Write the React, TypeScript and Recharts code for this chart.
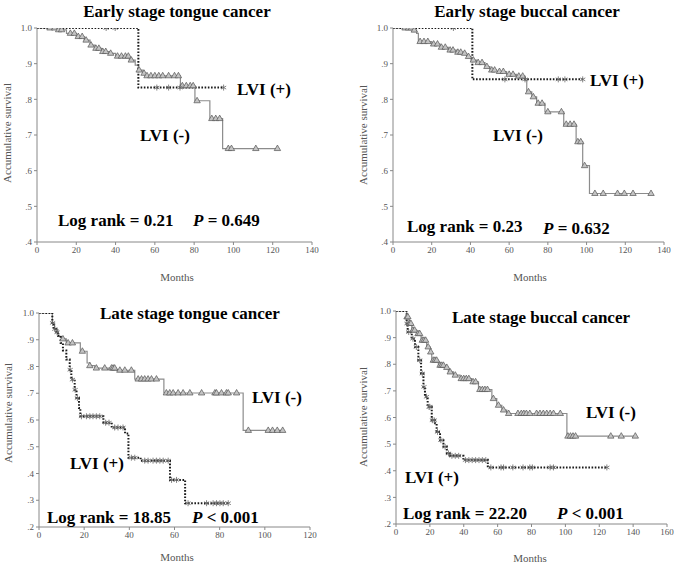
import React from "react"
import { ComposedChart, Line, Scatter, XAxis, YAxis } from "recharts"

// Kaplan-Meier curves, [month, survival] at each step
const earlyTongueNeg = [
  [0, 1], [10, 0.995], [15, 0.985], [20, 0.976], [24, 0.966], [27, 0.952], [29.5, 0.943],
  [33, 0.934], [37, 0.929], [40, 0.921], [47, 0.91], [50, 0.896], [51.6, 0.882], [54, 0.873],
  [55, 0.866], [73, 0.838], [80.4, 0.796], [88, 0.746], [94.5, 0.662], [122.5, 0.662],
]
const earlyTongueNegCens = [
  [6.6, 1], [9, 1], [11, 0.995], [12.5, 0.995], [17, 0.985], [19, 0.985], [21, 0.976], [23, 0.976],
  [25, 0.966], [27.5, 0.952], [30, 0.943], [31.5, 0.943], [33.5, 0.934], [35, 0.934], [37.5, 0.929],
  [41, 0.921], [43, 0.921], [45, 0.921], [46.5, 0.921], [48, 0.91], [52, 0.882], [54.5, 0.873],
  [56, 0.866], [58, 0.866], [60, 0.866], [62, 0.866], [64, 0.866], [67, 0.866], [70, 0.866], [72, 0.866],
  [74, 0.838], [76, 0.838], [78, 0.838], [79.5, 0.838], [81.5, 0.796], [89, 0.746], [91, 0.746],
  [93, 0.746], [97.4, 0.662], [99, 0.662], [111.4, 0.662], [122.4, 0.662],
]
const earlyTonguePos = [[0, 1], [51.6, 0.833], [95, 0.833]]
const earlyTonguePosCens = [[35.2, 1], [39.8, 1], [61, 0.833], [67, 0.833], [72.8, 0.833], [95, 0.833]]

const earlyBuccalNeg = [
  [0, 1], [10.5, 0.994], [12.2, 0.985], [13.1, 0.962], [20, 0.955], [24.3, 0.946], [28.6, 0.938],
  [33, 0.932], [36.3, 0.929], [38, 0.92], [40.3, 0.91], [43.2, 0.903], [47.5, 0.892], [50.1, 0.882],
  [53.5, 0.878], [58.7, 0.87], [63.9, 0.865], [68.2, 0.854], [69.1, 0.821], [71.7, 0.807],
  [74.2, 0.789], [78.5, 0.765], [88.2, 0.73], [94.6, 0.681], [98, 0.614], [101.5, 0.536], [133.3, 0.536],
]
const earlyBuccalNegCens = [
  [6.2, 1], [8, 1], [9.5, 1], [11, 0.994], [14, 0.962], [16, 0.962], [18, 0.962], [21, 0.955],
  [23, 0.955], [25, 0.946], [27, 0.946], [29.5, 0.938], [31, 0.938], [33.5, 0.932], [35, 0.932],
  [37, 0.929], [39, 0.92], [41.5, 0.91], [44, 0.903], [46, 0.903], [48.5, 0.892], [51, 0.882],
  [52.5, 0.882], [55, 0.878], [57, 0.878], [60, 0.87], [62, 0.87], [65, 0.865], [67, 0.865],
  [70, 0.821], [72.5, 0.807], [75, 0.789], [77, 0.789], [80, 0.765], [87, 0.765], [89.5, 0.73],
  [91.5, 0.73], [93.5, 0.73], [95.5, 0.681], [97, 0.681], [99, 0.614], [104.3, 0.536], [108.6, 0.536],
  [116, 0.536], [119.5, 0.536], [124, 0.536], [133.3, 0.536],
]
const earlyBuccalPos = [[0, 1], [41, 0.856], [98, 0.856]]
const earlyBuccalPosCens = [[31.2, 1], [57.8, 0.856], [68.2, 0.856], [85.4, 0.856], [88.8, 0.856], [98, 0.856]]

const lateTongueNeg = [
  [0, 1], [5.9, 0.963], [6.9, 0.938], [8.4, 0.913], [9.9, 0.903], [12.1, 0.888], [18.3, 0.857],
  [21.3, 0.813], [22.5, 0.803], [24.7, 0.794], [34.3, 0.786], [42.4, 0.753], [55.3, 0.701],
  [90.4, 0.561], [108, 0.561],
]
const lateTongueNegCens = [
  [10.6, 0.903], [12.9, 0.888], [14.8, 0.888], [19.2, 0.857], [22.5, 0.803], [25.4, 0.794],
  [29.1, 0.794], [32.1, 0.794], [32.8, 0.794], [33.5, 0.794], [35.8, 0.786], [38, 0.786], [40.9, 0.786],
  [43.9, 0.753], [45.4, 0.753], [46.8, 0.753], [48.3, 0.753], [49.8, 0.753], [52, 0.753],
  [56.4, 0.701], [57.9, 0.701], [59.4, 0.701], [61.6, 0.701], [63.8, 0.701], [66.8, 0.701],
  [72, 0.701], [77.9, 0.701], [78.6, 0.701], [80.8, 0.701], [83, 0.701], [83.8, 0.701], [87.5, 0.701],
  [92.7, 0.561], [101.5, 0.561], [103.4, 0.561], [105.5, 0.561], [107.9, 0.561],
]
const lateTonguePos = [
  [0, 1], [5.9, 0.963], [6.5, 0.94], [7.7, 0.928], [8.4, 0.915], [9.6, 0.888], [10.6, 0.86],
  [12.1, 0.826], [13.6, 0.788], [14.3, 0.751], [15.8, 0.713], [16.6, 0.682], [17.7, 0.645],
  [18.3, 0.614], [28.5, 0.59], [32.2, 0.572], [38.1, 0.55], [39.6, 0.459], [45, 0.448],
  [58, 0.376], [64.7, 0.289], [83.8, 0.289],
]
const lateTonguePosCens = [
  [6, 0.963], [7, 0.94], [8, 0.928], [13.8, 0.788], [14.8, 0.751], [16, 0.713], [17, 0.682],
  [18.8, 0.614], [21, 0.614], [22.5, 0.614], [23.9, 0.614], [25.4, 0.614], [26.9, 0.614],
  [29.5, 0.59], [31, 0.59], [33.5, 0.572], [35, 0.572], [37.2, 0.572], [40.9, 0.459], [42.4, 0.459],
  [46.8, 0.448], [48.3, 0.448], [50.5, 0.448], [52, 0.448], [53.5, 0.448], [55, 0.448], [57.2, 0.448],
  [58.7, 0.376], [60.9, 0.376], [66, 0.289], [74.2, 0.289], [77.1, 0.289], [78.6, 0.289],
  [80.1, 0.289], [81.6, 0.289], [83.8, 0.289],
]

const lateBuccalNeg = [
  [0, 1], [6.3, 0.978], [7.7, 0.953], [9.3, 0.928], [12.2, 0.915], [14.8, 0.89], [18.1, 0.865],
  [20.1, 0.846], [21.1, 0.815], [25, 0.796], [29, 0.788], [30.9, 0.771], [33.9, 0.759],
  [37.8, 0.746], [44.7, 0.734], [48.7, 0.705], [56.6, 0.671], [59.5, 0.646], [62.5, 0.628],
  [65.4, 0.615], [100.9, 0.53], [141.3, 0.53],
]
const lateBuccalNegCens = [
  [6.5, 0.978], [7, 0.978], [8, 0.953], [8.8, 0.953], [10, 0.928], [11, 0.928], [13, 0.915],
  [14, 0.915], [15.5, 0.89], [16.5, 0.89], [17.5, 0.89], [19, 0.865], [20.5, 0.846], [22, 0.815],
  [23, 0.815], [24, 0.815], [26, 0.796], [27, 0.796], [28, 0.796], [30, 0.788], [32, 0.771],
  [35, 0.759], [38.5, 0.746], [40, 0.746], [41.5, 0.746], [43, 0.746], [45.5, 0.734], [47, 0.734],
  [49.5, 0.705], [51, 0.705], [52.5, 0.705], [54, 0.705], [57.5, 0.671], [60.5, 0.646], [63.5, 0.628],
  [66.5, 0.615], [72, 0.615], [74, 0.615], [75.5, 0.615], [77, 0.615], [79, 0.615], [83, 0.615],
  [85, 0.615], [87, 0.615], [89, 0.615], [91, 0.615], [93, 0.615], [97, 0.615], [101.5, 0.53],
  [103, 0.53], [104.5, 0.53], [106, 0.53], [126.8, 0.53], [133, 0.53], [141.3, 0.53],
]
const lateBuccalPos = [
  [0, 1], [6.3, 0.953], [6.9, 0.921], [9.3, 0.896], [11.2, 0.865], [13.2, 0.815], [14.8, 0.765],
  [16.2, 0.715], [17.1, 0.678], [18.7, 0.64], [21.1, 0.59], [23.1, 0.578], [24, 0.546], [26, 0.515],
  [28, 0.49], [30, 0.465], [31.9, 0.456], [39.8, 0.44], [54.2, 0.4125], [124.5, 0.4125],
]
const lateBuccalPosCens = [
  [6.5, 0.953], [7.5, 0.921], [10, 0.896], [12, 0.865], [14, 0.815], [15.5, 0.765], [16.5, 0.715],
  [18, 0.678], [19.5, 0.64], [20, 0.64], [21.5, 0.59], [22.5, 0.59], [24.5, 0.546], [26.5, 0.515],
  [29, 0.49], [31, 0.465], [33, 0.456], [35, 0.456], [37, 0.456], [41, 0.44], [43, 0.44], [45, 0.44],
  [47, 0.44], [49, 0.44], [51, 0.44], [53, 0.44], [56, 0.4125], [62, 0.4125], [63.5, 0.4125],
  [69, 0.4125], [75, 0.4125], [79, 0.4125], [80.5, 0.4125], [91, 0.4125], [93, 0.4125], [124.5, 0.4125],
]

const ticks140 = [0, 20, 40, 60, 80, 100, 120, 140]
const ticks120 = [0, 20, 40, 60, 80, 100, 120]
const ticks160 = [0, 20, 40, 60, 80, 100, 120, 140, 160]
const yTicksEarly = [0.4, 0.5, 0.6, 0.7, 0.8, 0.9, 1.0]
const yTicksLate = [0.2, 0.3, 0.4, 0.5, 0.6, 0.7, 0.8, 0.9, 1.0]

const toPts = (arr: number[][]) => arr.map(([t, s]) => ({ t, s }))

const SERIF = "'Liberation Serif', 'Times New Roman', serif"

const Triangle = (props: any) => {
  const { cx, cy } = props
  return (
    <path
      d={`M${cx},${cy - 3.5} L${cx + 3.2},${cy + 2} L${cx - 3.2},${cy + 2} Z`}
      fill="#c4c4c4"
      stroke="#555"
      strokeWidth={0.7}
    />
  )
}

const Star = (props: any) => {
  const { cx, cy } = props
  return (
    <g stroke="#666" strokeWidth={0.8}>
      <line x1={cx} y1={cy - 3} x2={cx} y2={cy + 3} />
      <line x1={cx - 2.6} y1={cy - 1.5} x2={cx + 2.6} y2={cy + 1.5} />
      <line x1={cx - 2.6} y1={cy + 1.5} x2={cx + 2.6} y2={cy - 1.5} />
    </g>
  )
}

const panels = [
  {
    box: { l: 37, r: 312, t: 28, b: 242 },
    xMax: 140, xTicks: ticks140, yMin: 0.4, yTicks: yTicksEarly,
    neg: earlyTongueNeg, negCens: earlyTongueNegCens, pos: earlyTonguePos, posCens: earlyTonguePosCens,
  },
  {
    box: { l: 393, r: 664, t: 28, b: 242 },
    xMax: 140, xTicks: ticks140, yMin: 0.4, yTicks: yTicksEarly,
    neg: earlyBuccalNeg, negCens: earlyBuccalNegCens, pos: earlyBuccalPos, posCens: earlyBuccalPosCens,
  },
  {
    box: { l: 39, r: 310, t: 313, b: 527 },
    xMax: 120, xTicks: ticks120, yMin: 0.2, yTicks: yTicksLate,
    neg: lateTongueNeg, negCens: lateTongueNegCens, pos: lateTonguePos, posCens: lateTonguePosCens,
  },
  {
    box: { l: 396, r: 667, t: 311, b: 524 },
    xMax: 160, xTicks: ticks160, yMin: 0.2, yTicks: yTicksLate,
    neg: lateBuccalNeg, negCens: lateBuccalNegCens, pos: lateBuccalPos, posCens: lateBuccalPosCens,
  },
]

const fmtY = (v: number) => (v >= 0.999 ? "1.0" : "." + Math.round(v * 10))

const Panel = ({ p }: { p: any }) => {
  const { box } = p
  const W = box.r - box.l + 48
  const H = box.b - box.t + 35
  const tickStyle = { fill: "#555", fontSize: 9, fontFamily: SERIF }
  return (
    <div style={{ position: "absolute", left: box.l - 40, top: box.t - 10 }}>
      <ComposedChart width={W} height={H} margin={{ top: 10, right: 8, left: 10, bottom: 5 }}>
        <XAxis
          dataKey="t"
          type="number"
          domain={[0, p.xMax]}
          ticks={p.xTicks}
          height={20}
          tick={tickStyle}
          tickSize={3}
          tickLine={{ stroke: "#888" }}
          axisLine={{ stroke: "#888" }}
          allowDataOverflow
        />
        <YAxis
          dataKey="s"
          type="number"
          domain={[p.yMin, 1]}
          ticks={p.yTicks}
          width={30}
          tick={tickStyle}
          tickSize={3}
          tickFormatter={fmtY}
          tickLine={{ stroke: "#888" }}
          axisLine={{ stroke: "#888" }}
          allowDataOverflow
        />
        <Line
          data={toPts(p.neg)}
          dataKey="s"
          type="stepAfter"
          stroke="#8c8c8c"
          strokeWidth={1.2}
          dot={false}
          activeDot={false}
          isAnimationActive={false}
        />
        <Line
          data={toPts(p.pos)}
          dataKey="s"
          type="stepAfter"
          stroke="#1a1a1a"
          strokeWidth={2}
          strokeDasharray="1.6 1.6"
          dot={false}
          activeDot={false}
          isAnimationActive={false}
        />
        <Scatter data={toPts(p.negCens)} dataKey="s" shape={Triangle} isAnimationActive={false} />
        <Scatter data={toPts(p.posCens)} dataKey="s" shape={Star} isAnimationActive={false} />
      </ComposedChart>
    </div>
  )
}

const bold = { fontFamily: SERIF, fontWeight: "bold" as const, fontSize: 17, color: "#000", whiteSpace: "nowrap" as const, lineHeight: 1 }
const small = { fontFamily: SERIF, fontSize: 11, color: "#555", whiteSpace: "nowrap" as const, lineHeight: 1 }

const T = ({ x, y, center, children, style }: any) => (
  <div
    style={{
      position: "absolute",
      left: x,
      top: y,
      transform: center ? "translate(-50%, -50%)" : "translate(0, -50%)",
      ...style,
    }}
  >
    {children}
  </div>
)

const YLabel = ({ x, y }: { x: number; y: number }) => (
  <div
    style={{
      position: "absolute",
      left: x,
      top: y,
      transform: "translate(-50%, -50%) rotate(-90deg)",
      ...small,
    }}
  >
    Accumulative survival
  </div>
)

export default function App() {
  return (
    <div style={{ position: "absolute", left: 0, top: 0, width: 675, height: 567, background: "#fff", overflow: "hidden" }}>
      {panels.map((p, i) => (
        <Panel key={i} p={p} />
      ))}

      {/* early tongue */}
      <T x={177} y={11} center style={bold}>Early stage tongue cancer</T>
      <T x={237} y={89} style={bold}>LVI (+)</T>
      <T x={140} y={135} style={bold}>LVI (-)</T>
      <T x={58} y={220} style={bold}>Log rank = 0.21</T>
      <T x={193} y={220} style={bold}><i>P</i> = 0.649</T>
      <T x={177} y={277} center style={small}>Months</T>
      <YLabel x={7} y={133} />

      {/* early buccal */}
      <T x={527} y={11} center style={bold}>Early stage buccal cancer</T>
      <T x={590} y={80} style={bold}>LVI (+)</T>
      <T x={493} y={135} style={bold}>LVI (-)</T>
      <T x={407} y={226} style={bold}>Log rank = 0.23</T>
      <T x={543} y={228} style={bold}><i>P</i> = 0.632</T>
      <T x={530} y={277} center style={small}>Months</T>
      <YLabel x={363} y={135} />

      {/* late tongue */}
      <T x={100} y={313} style={bold}>Late stage tongue cancer</T>
      <T x={252} y={397} style={bold}>LVI (-)</T>
      <T x={70} y={463} style={bold}>LVI (+)</T>
      <T x={47} y={517} style={bold}>Log rank = 18.85</T>
      <T x={192} y={517} style={bold}><i>P</i> &lt; 0.001</T>
      <T x={177} y={557} center style={small}>Months</T>
      <YLabel x={8} y={413} />

      {/* late buccal */}
      <T x={452} y={317} style={bold}>Late stage buccal cancer</T>
      <T x={586} y={412} style={bold}>LVI (-)</T>
      <T x={405} y={477} style={bold}>LVI (+)</T>
      <T x={403} y={513} style={bold}>Log rank = 22.20</T>
      <T x={557} y={513} style={bold}><i>P</i> &lt; 0.001</T>
      <T x={530} y={558} center style={small}>Months</T>
      <YLabel x={363} y={417} />
    </div>
  )
}
